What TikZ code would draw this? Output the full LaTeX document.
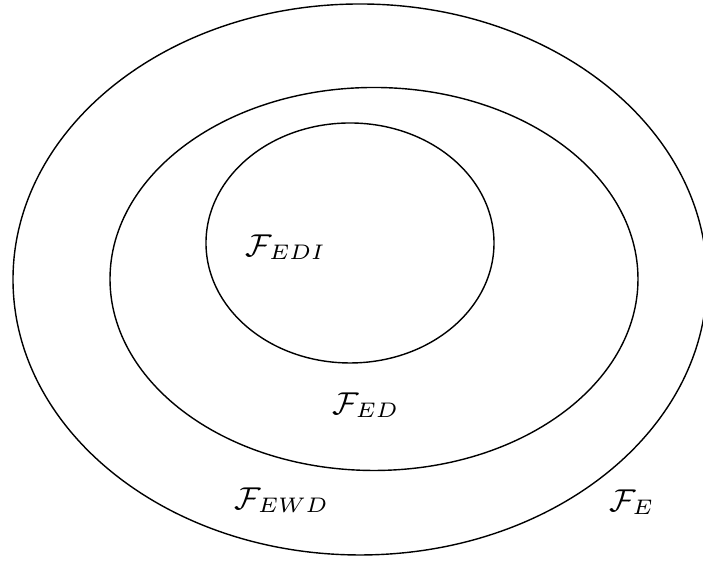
\documentclass[tikz,border=0pt]{standalone}
\usepackage{tikz}
\tikzset{
  family/.style={
    black,
    thin,
  },
  setlabel/.style={
    inner sep=0pt,
    font=\fontsize{9.2}{11}\selectfont,
  }
}

\begin{document}
\begin{tikzpicture}
  \useasboundingbox (0, 0) rectangle (7.03, 5.61);

  \draw[family] (3.60, 2.815) ellipse [x radius=3.47, y radius=2.755];
  \draw[family] (3.74, 2.82) ellipse [x radius=2.64, y radius=1.915];
  \draw[family] (3.50, 3.18) ellipse [x radius=1.44, y radius=1.20];

  \node[setlabel] (edi) at (2.86, 3.14) {$\mathcal{F}_{EDI}$};
  \node[setlabel] (ed) at (3.66, 1.56) {$\mathcal{F}_{ED}$};
  \node[setlabel] (ewd) at (2.82, 0.61) {$\mathcal{F}_{EWD}$};
  \node[setlabel] (e) at (6.32, 0.59) {$\mathcal{F}_{E}$};

\end{tikzpicture}
\end{document}
